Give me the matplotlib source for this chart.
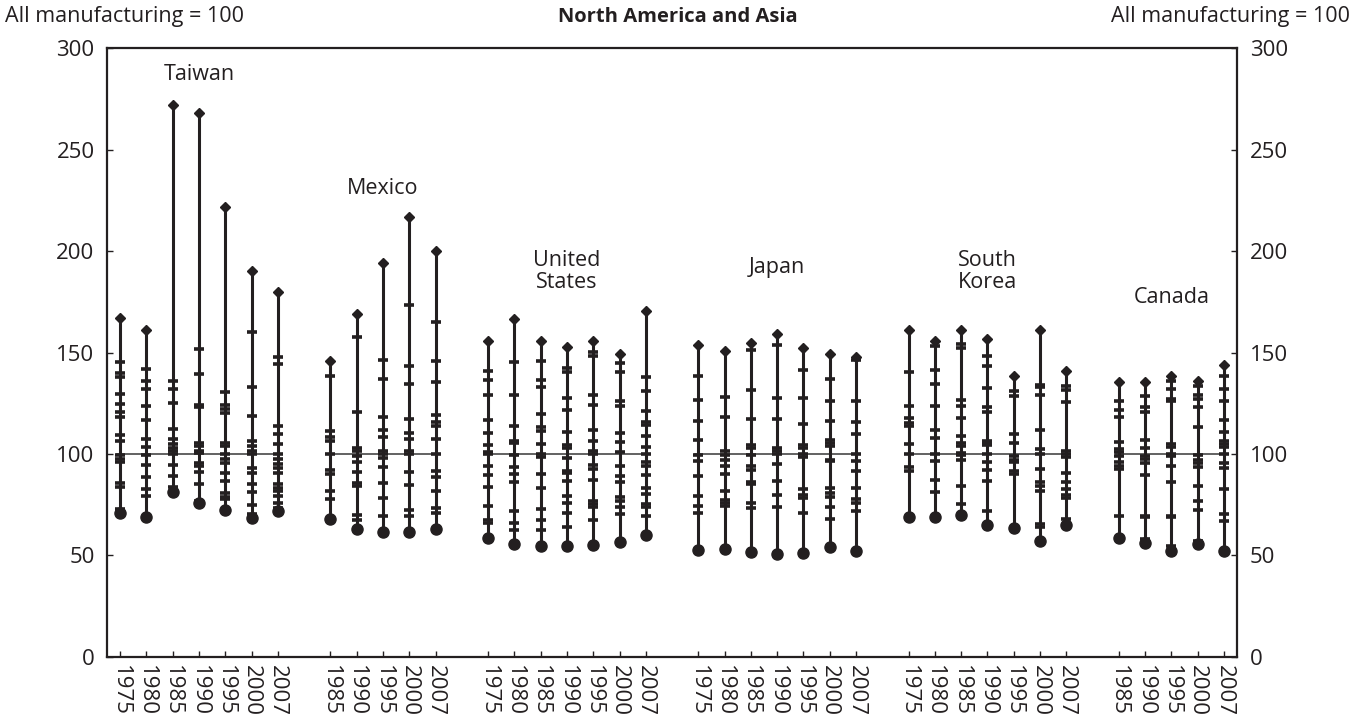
import matplotlib

matplotlib.use("Agg")

import matplotlib.pyplot as plt

plt.rcParams.update({
    "font.family": ["Open Sans", "DejaVu Sans"],
    "text.color": "#231f20",
    "axes.edgecolor": "#231f20",
    "xtick.color": "#231f20",
    "ytick.color": "#231f20",
})

INK = "#231f20"
REF = "#555555"

# ── Data: relative productivity by industry, all manufacturing = 100 ─────────
COUNTRIES = ["Taiwan", "Mexico", "United\nStates", "Japan", "South\nKorea", "Canada"]

TAIWAN_YEARS = ["1975", "1980", "1985", "1990", "1995", "2000", "2007"]
TAIWAN_LOW = [71.1, 69.1, 81.4, 75.7, 72.4, 68.6, 71.9]
TAIWAN_HIGH = [167, 161, 272, 268, 222, 190, 180]
TAIWAN_MID = [
    [145.3, 140, 137.9, 129.7, 124.5, 120.9, 118.2, 109.2, 106.4, 99.7, 97.4, 96.1, 85.9, 83.9, 73.1],
    [142, 136, 132.2, 123.6, 116.6, 107.6, 103.4, 99.7, 94.6, 88.7, 82.9, 79.3],
    [136, 132.2, 125, 112.2, 107.6, 104.8, 103.1, 101.5, 99.8, 94.6, 89.2, 83.9],
    [151.6, 139.2, 124, 123.2, 105.6, 104, 101.5, 100.3, 95.7, 94.1, 91.1, 85.1, 76.8],
    [130.5, 124, 122.3, 120.4, 105.3, 104, 99.8, 97.7, 95.7, 90.8, 86.7, 80.6, 79, 77.7],
    [160.3, 133.2, 118.7, 106.4, 104, 101.5, 99.8, 93.3, 90.8, 85.4, 81.3, 74.7, 70.2],
    [148, 144.5, 113.8, 109.7, 104.8, 99.8, 97.4, 94.9, 93.3, 90.8, 85.1, 83.4, 81.8, 79.3, 76, 73.6],
]

MEXICO_YEARS = ["1985", "1990", "1995", "2000", "2007"]
MEXICO_LOW = [68.1, 63.1, 61.6, 61.6, 63.1]
MEXICO_HIGH = [145.6, 169.1, 194.4, 216.7, 200.2]
MEXICO_MID = [
    [138.3, 111.2, 108.4, 106.2, 100, 92.3, 90.3, 81.6, 78],
    [157.5, 120.5, 103, 101.3, 98.9, 96.1, 91, 85.7, 84.1, 70.1, 67.7],
    [146.5, 137, 118.1, 112, 108.4, 101.6, 100, 98, 93.6, 85.7, 78.3, 69.3],
    [173.6, 143.5, 134.6, 117.2, 110.3, 107.6, 101.3, 100, 91.1, 84.9, 72.6, 69.6],
    [164.9, 145.6, 135.5, 119.4, 115.6, 114, 107.4, 100, 91.5, 88.5, 81.9, 73.4, 70.9],
]

US_YEARS = ["1975", "1980", "1985", "1990", "1995", "2000", "2007"]
US_LOW = [58.6, 55.7, 54.4, 54.4, 55.3, 56.5, 60.3]
US_HIGH = [155.5, 166.5, 155.8, 152.5, 155.5, 149.3, 170.6]
US_MID = [
    [140.7, 136.5, 129.1, 116.7, 110.2, 104.4, 100.8, 99.8, 93.9, 89.7, 83.9, 74.5, 67.7, 66],
    [145.2, 129.1, 114, 106.6, 105.4, 99.7, 93.4, 90.1, 86, 72.1, 66, 62.7],
    [146, 136.5, 132.8, 119.7, 113.1, 111.5, 104.9, 100, 98.4, 90.1, 83.1, 72.9, 67.5, 62.6],
    [142.2, 140.2, 127.6, 121.8, 110.7, 104.4, 102.8, 97.9, 91.5, 90.6, 86.9, 79.1, 75.7, 70.8, 64.2],
    [150.4, 148.4, 129.2, 124.3, 111.8, 106.6, 101.6, 100, 94.6, 92.6, 87.2, 77, 75.4, 73.7, 67.5],
    [144.7, 140.2, 126.3, 123.5, 110.2, 106.1, 100.8, 94.3, 89.3, 86, 78.7, 77, 73.7, 70.4],
    [137.8, 131.2, 121, 115.6, 114.4, 108.7, 103.3, 100, 95.9, 94.3, 89.7, 83.1, 80.3, 75.4, 73.7, 69.6],
]

JAPAN_YEARS = ["1975", "1980", "1985", "1990", "1995", "2000", "2007"]
JAPAN_LOW = [52.5, 53.2, 51.7, 50.9, 51.2, 54.2, 52.1]
JAPAN_HIGH = [153.9, 150.6, 154.7, 159.1, 152.2, 149.3, 147.8]
JAPAN_MID = [
    [138.3, 126.4, 116.4, 106.9, 99.7, 96.4, 89.3, 79.5, 74.2, 70.9],
    [128.1, 118.1, 101.6, 99.7, 97.2, 94.3, 90.1, 81.9, 77.2, 75.9, 74.5],
    [151.4, 131.7, 117.2, 104.6, 102.9, 99.7, 93.9, 92.3, 86.2, 85.2, 75.9, 73.4],
    [153.9, 127.6, 117.2, 102.9, 101.6, 100.2, 95.1, 86.5, 80, 73.7],
    [141.5, 127.6, 114.8, 104.6, 102.9, 100.2, 98.4, 82.8, 80, 78.3, 70.9],
    [136.9, 125.9, 116.4, 107.1, 105.4, 103.8, 97.2, 96.4, 83.3, 80.8, 78.7, 73.7, 68],
    [146.5, 125.9, 115.6, 109.9, 100, 96.4, 91.5, 83.3, 77.8, 75.9, 72.1],
]

KOREA_YEARS = ["1975", "1980", "1985", "1990", "1995", "2000", "2007"]
KOREA_LOW = [69, 69, 70.1, 65.2, 63.5, 57, 64.9]
KOREA_HIGH = [161.2, 155.5, 161.2, 156.8, 138.3, 161.2, 140.7]
KOREA_MID = [
    [140.4, 123.8, 117.7, 115.3, 113.6, 105.1, 100, 93.4, 91.5],
    [153, 141.2, 134.6, 123.5, 112, 107.9, 100, 96.4, 87.4, 81.3],
    [154.4, 152.2, 126.4, 123.8, 117.7, 108.7, 105.4, 103.8, 100.5, 99.3, 97.2, 84.4, 75.4],
    [148.4, 143.2, 132.5, 123, 120.7, 106.6, 105.4, 104.3, 100, 95.9, 92, 86.5, 71.8],
    [130.9, 128.4, 109.9, 105.4, 99.2, 97.2, 95.9, 91.8, 90.1],
    [134.2, 133, 129.2, 112, 102.5, 100, 92.8, 86.2, 84.1, 81.6, 65.5, 64],
    [133.3, 131.7, 125.6, 101.6, 100, 98.4, 90.6, 86.2, 82.9, 80, 78.3, 68],
]

CANADA_YEARS = ["1985", "1990", "1995", "2000", "2007"]
CANADA_LOW = [58.6, 56.2, 52.1, 55.7, 52.1]
CANADA_HIGH = [135.3, 135.3, 138.6, 136.1, 143.8]
CANADA_MID = [
    [126.3, 121.8, 118.1, 105.7, 102.5, 101.1, 98.9, 95.9, 94.3, 92.6, 69.6],
    [128.4, 123, 120.5, 107.1, 102.8, 99.2, 97.5, 95.6, 89.7, 69.6, 68.8, 58.1],
    [136.1, 132, 127.1, 126.3, 104.9, 103.3, 100, 98.9, 94.3, 86, 69.6, 68.8, 54.8],
    [133.7, 129.2, 127.1, 123.3, 113.1, 99.5, 97.2, 95.6, 93.4, 84.1, 77, 72.6, 57.3],
    [138.6, 132, 126.3, 116.7, 110.7, 106.2, 104.9, 103.3, 100, 95.6, 93.1, 82.8, 70.4, 66.8],
]

GROUPS = [
    (TAIWAN_YEARS, TAIWAN_LOW, TAIWAN_HIGH, TAIWAN_MID),
    (MEXICO_YEARS, MEXICO_LOW, MEXICO_HIGH, MEXICO_MID),
    (US_YEARS, US_LOW, US_HIGH, US_MID),
    (JAPAN_YEARS, JAPAN_LOW, JAPAN_HIGH, JAPAN_MID),
    (KOREA_YEARS, KOREA_LOW, KOREA_HIGH, KOREA_MID),
    (CANADA_YEARS, CANADA_LOW, CANADA_HIGH, CANADA_MID),
]

# height of each country's name label
LABEL_Y = [287, 231, 190, 192, 190, 177]

fig = plt.figure(figsize=(13.55, 7.21), dpi=100)
ax = fig.add_axes([0.079, 0.089, 0.834, 0.844])

ticks, ticklabels = [], []
slot = 0
for (years, low, high, mids), name, ly in zip(GROUPS, COUNTRIES, LABEL_Y):
    xs = list(range(slot, slot + len(years)))
    ax.plot([xs[0] - 0.12, xs[-1] + 0.12], [100, 100], color=REF, lw=1.3, zorder=1)
    for x, lo, hi, mid in zip(xs, low, high, mids):
        ax.plot([x, x], [lo, hi], color=INK, lw=2.2, zorder=2)
        ax.plot([x] * len(mid), mid, ls="none", marker="_", ms=7.5,
                mew=2.6, color=INK, zorder=3)
        ax.plot([x], [lo], ls="none", marker="o", ms=8, color=INK, zorder=4)
        ax.plot([x], [hi], ls="none", marker="D", ms=5, color=INK, zorder=4)
    centre = (xs[0] + xs[-1]) / 2
    ax.text(centre, ly, name, ha="center", va="center", fontsize=15.5,
            linespacing=1.05)
    ticks += xs
    ticklabels += years
    slot += len(years) + 1

ax.set_xlim(-0.5, slot - 1.5)
ax.set_ylim(0, 300)
ax.set_yticks(range(0, 301, 50))
ax.set_xticks(ticks)
ax.set_xticklabels(ticklabels, rotation=270, fontsize=16)
ax.tick_params(axis="x", direction="in", length=4, width=1, pad=6)
ax.tick_params(axis="y", direction="in", length=4, width=1, labelsize=16,
               pad=9, labelleft=True, right=True, labelright=True)
for s in ax.spines.values():
    s.set_linewidth(1.6)

fig.text(0.004, 0.977, "All manufacturing = 100", ha="left", va="center", fontsize=15.5)
fig.text(0.996, 0.977, "All manufacturing = 100", ha="right", va="center", fontsize=15.5)
fig.text(0.5, 0.977, "North America and Asia", ha="center", va="center",
         fontsize=14.5, fontweight="bold")

fig.savefig("out.png", dpi=100)
